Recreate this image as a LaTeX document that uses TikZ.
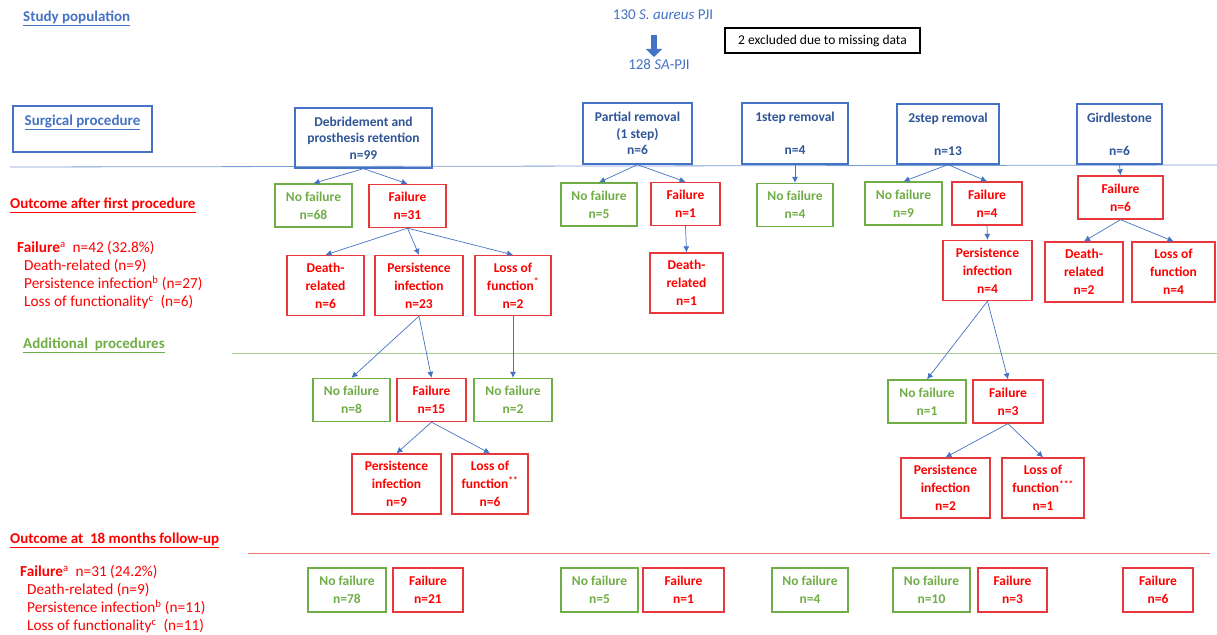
\documentclass[tikz,border=0pt]{standalone}
\usepackage{fontspec}
\setmainfont{Carlito}
\usepackage{tikz}
\usetikzlibrary{arrows.meta}
\definecolor{procblue}{HTML}{4472C4}
\definecolor{darkblue}{HTML}{2F5597}
\definecolor{okgreen}{HTML}{70AD47}
\definecolor{failred}{HTML}{FF0000}
\definecolor{boxred}{HTML}{E8383D}

\begin{document}
\begin{tikzpicture}[x=1pt,y=-1pt,font=\fontsize{13.5}{18}\selectfont]
  \tikzstyle{Proc}=[draw=procblue,line width=1.3pt,text=darkblue,align=center,inner sep=2pt,
                    font=\fontsize{13.5}{16.5}\selectfont\bfseries]
  \tikzstyle{NoFail}=[draw=okgreen,line width=1.3pt,text=okgreen,align=center,inner sep=2pt,
                      font=\fontsize{13.5}{18}\selectfont\bfseries,minimum width=77,minimum height=43]
  \tikzstyle{Fail}=[draw=boxred,line width=1.3pt,text=failred,align=center,inner sep=2pt,
                    font=\fontsize{13.5}{18}\selectfont\bfseries,minimum width=70,minimum height=43]
  \tikzstyle{Tall}=[minimum height=60]
  \tikzstyle{Head}=[anchor=west,inner sep=0pt,font=\fontsize{15}{18}\selectfont\bfseries]
  \tikzstyle{RedText}=[text=failred,anchor=north west,align=left,inner sep=0pt,
                       font=\fontsize{15.3}{18}\selectfont]
  \tikzstyle{Link}=[draw=procblue,line width=0.7pt,-{Latex[length=6pt,width=6pt]}]
  \useasboundingbox (0,0) rectangle (1217,634);

  % section rules
  \draw[procblue!70,line width=0.8pt] (10,167) -- (1217,165);
  \draw[okgreen!60,line width=0.8pt] (232,353) -- (1217,353);
  \draw[boxred!70,line width=0.8pt] (248,553) -- (1210,553);

  % study population
  \node[Head,text=procblue] (study) at (23,18) {\underline{Study population}};
  \node[text=procblue,inner sep=1pt,font=\fontsize{15}{18}\selectfont] (pop) at (663,15) {130 \textit{S. aureus} PJI};
  \node[text=procblue,inner sep=1pt,font=\fontsize{15}{18}\selectfont] (sapji) at (659,64) {128 \textit{SA}-PJI};
  \coordinate (big1) at (654,35);
  \coordinate (big2) at (654,57);
  \draw[procblue,line width=6pt,-{Triangle[length=8pt,width=16pt]}] (big1) -- (big2);
  \node[draw=black,line width=1.3pt,minimum width=195,minimum height=25] (excl) at (822.5,40.5)
       {2 excluded due to missing data};

  % surgical procedure
  \node[Proc,text=procblue,minimum width=139,minimum height=46,font=\fontsize{15}{18}\selectfont\bfseries] (surg) at (82.5,129)
       {\underline{Surgical procedure}\\~};
  \node[Proc,minimum width=137,minimum height=60] (dair) at (363.5,138)
       {Debridement and\\prosthesis retention\\n=99};
  \node[Proc,minimum width=109,minimum height=61] (part) at (637.5,133.5) {Partial removal\\(1 step)\\n=6};
  \node[Proc,minimum width=106,minimum height=61] (one) at (795,133.5) {1step removal\\~\\n=4};
  \node[Proc,minimum width=102,minimum height=60] (two) at (948,134) {2step removal\\~\\n=13};
  \node[Proc,minimum width=85,minimum height=60] (gird) at (1119.5,134) {Girdlestone\\~\\n=6};

  % outcome after first procedure
  \node[Head,text=failred] (out1) at (10,205) {\underline{Outcome after first procedure}};
  \node[RedText] (sum1) at (17,241) {\textbf{Failure}\textsuperscript{a}~~n=42 (32.8\%)\\
       \hspace*{7pt}Death-related (n=9)\\
       \hspace*{7pt}Persistence infection\textsuperscript{b} (n=27)\\
       \hspace*{7pt}Loss of functionality\textsuperscript{c}~~(n=6)};

  \node[NoFail] (dNo) at (313.5,205.5) {No failure\\n=68};
  \node[Fail,minimum width=77] (dF) at (407.5,206) {Failure\\n=31};
  \node[Fail,Tall,minimum width=77] (dDeath) at (325.5,285.5) {Death-\\related\\n=6};
  \node[Fail,Tall,minimum width=88] (dPers) at (419,285.5) {Persistence\\infection\\n=23};
  \node[Fail,Tall,minimum width=76] (dLoss) at (513,285.5) {Loss of\\function\textsuperscript{*}\\n=2};

  \node[NoFail,minimum width=76] (pNo) at (599,204.5) {No failure\\n=5};
  \node[Fail,minimum width=69] (pF) at (685.5,204) {Failure\\n=1};
  \node[Fail,Tall,minimum width=73] (pDeath) at (686.5,283) {Death-\\related\\n=1};

  \node[NoFail,minimum width=76] (oNo) at (795,205) {No failure\\n=4};

  \node[NoFail] (tNo) at (903.5,203.5) {No failure\\n=9};
  \node[Fail] (tF) at (987,203.5) {Failure\\n=4};
  \node[Fail,Tall,minimum width=89] (tPers) at (987.5,270.5) {Persistence\\infection\\n=4};

  \node[Fail,minimum width=85] (gF) at (1120.5,197.5) {Failure\\n=6};
  \node[Fail,Tall,minimum width=78] (gDeath) at (1084,272) {Death-\\related\\n=2};
  \node[Fail,Tall,minimum width=83] (gLoss) at (1173.5,272) {Loss of\\function\\n=4};

  \draw[Link] (dair.south) -- (dNo.north);
  \draw[Link] (dair.south) -- (dF.north);
  \draw[Link] (dF.south) -- (dDeath.north);
  \draw[Link] (dF.south) -- (dPers.north);
  \draw[Link] (dF.south) -- (dLoss.north);
  \draw[Link] (part.south) -- (pNo.north);
  \draw[Link] (part.south) -- (pF.north);
  \draw[Link] (pF.south) -- (pDeath.north);
  \draw[Link] (one.south) -- (oNo.north);
  \draw[Link] (two.south) -- (tNo.north);
  \draw[Link] (two.south) -- (tF.north);
  \draw[Link] (tF.south) -- (tPers.north);
  \draw[Link] (gird.south) -- (gF.north);
  \draw[Link] (gF.south) -- (gDeath.north);
  \draw[Link] (gF.south) -- (gLoss.north);

  % additional procedures
  \node[Head,text=okgreen] (addp) at (23,345) {\underline{Additional~~procedures}};

  \node[NoFail] (aNo) at (351.5,400) {No failure\\n=8};
  \node[Fail,minimum width=69] (aF) at (431.5,400) {Failure\\n=15};
  \node[NoFail,minimum width=78] (aNoB) at (513,400) {No failure\\n=2};
  \node[Fail,Tall,minimum width=89] (aPers) at (396.5,484) {Persistence\\infection\\n=9};
  \node[Fail,Tall,minimum width=76] (aLoss) at (490,484) {Loss of\\function\textsuperscript{**}\\n=6};

  \node[NoFail,minimum width=78] (bNo) at (927,401.5) {No failure\\n=1};
  \node[Fail] (bF) at (1008,401.5) {Failure\\n=3};
  \node[Fail,Tall,minimum width=89] (bPers) at (945.5,488) {Persistence\\infection\\n=2};
  \node[Fail,Tall,minimum width=82] (bLoss) at (1043,488) {Loss of\\function\textsuperscript{***}\\n=1};

  \draw[Link] (dPers.south) -- (aNo.north);
  \draw[Link] (dPers.south) -- (aF.north);
  \draw[Link] (dLoss.south) -- (aNoB.north);
  \draw[Link] (aF.south) -- (aPers.north);
  \draw[Link] (aF.south) -- (aLoss.north);
  \draw[Link] (tPers.south) -- (bNo.north);
  \draw[Link] (tPers.south) -- (bF.north);
  \draw[Link] (bF.south) -- (bPers.north);
  \draw[Link] (bF.south) -- (bLoss.north);

  % outcome at 18 months
  \node[Head,text=failred] (out2) at (10,540) {\underline{Outcome at~~18 months follow-up}};
  \node[RedText] (sum2) at (20,565) {\textbf{Failure}\textsuperscript{a}~~n=31 (24.2\%)\\
       \hspace*{7pt}Death-related (n=9)\\
       \hspace*{7pt}Persistence infection\textsuperscript{b} (n=11)\\
       \hspace*{7pt}Loss of functionality\textsuperscript{c}~~(n=11)};

  \node[NoFail,minimum width=78,minimum height=44] (fNoA) at (347,590) {No failure\\n=78};
  \node[Fail,minimum height=44] (fFA) at (428,590) {Failure\\n=21};
  \node[NoFail,minimum height=44] (fNoB) at (599.5,590) {No failure\\n=5};
  \node[Fail,minimum width=81,minimum height=44] (fFB) at (683.5,590) {Failure\\n=1};
  \node[NoFail,minimum width=76,minimum height=44] (fNoC) at (810,590) {No failure\\n=4};
  \node[NoFail,minimum height=44] (fNoD) at (931.5,590) {No failure\\n=10};
  \node[Fail,minimum width=69,minimum height=44] (fFD) at (1012.5,590) {Failure\\n=3};
  \node[Fail,minimum height=44] (fFE) at (1158,590) {Failure\\n=6};
%  \node[Fail] (fFx) at (1158,640) {};
\end{tikzpicture}
\end{document}
